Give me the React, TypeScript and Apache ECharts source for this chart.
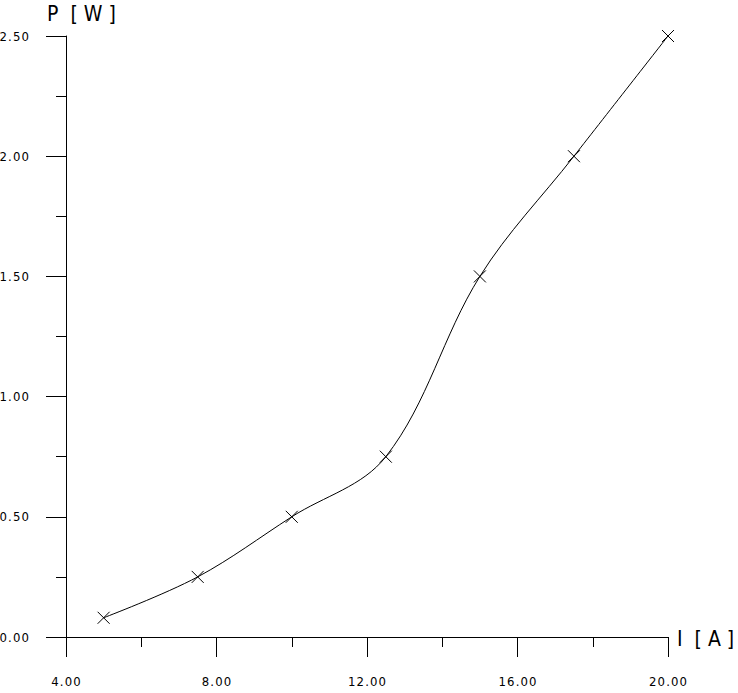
import React, { useEffect, useRef } from "react";
import * as echarts from "echarts";

const currentA = [5, 7.5, 10, 12.5, 15, 17.5, 20];
const powerW = [0.08, 0.25, 0.5, 0.75, 1.5, 2.0, 2.5];
const xLabelTicks = [4, 8, 12, 16, 20];
const yAxisTitle = "P  [ W ]";
const xAxisTitle = "I  [ A ]";

const FONT = "'DejaVu Sans Condensed', 'Liberation Sans Narrow', sans-serif";
const spaced = (s: string) => s.split("").join("\u200A");

export default function App() {
  const ref = useRef<HTMLDivElement>(null);
  useEffect(() => {
    if (!ref.current) return;
    const chart = echarts.init(ref.current, null, { renderer: "svg" });
    chart.setOption({
      animation: false,
      backgroundColor: "#ffffff",
      grid: { left: 66, top: 36, right: 70, bottom: 56, containLabel: false, outerBoundsMode: "none" },
      xAxis: {
        type: "value",
        min: 4,
        max: 20,
        interval: 4,
        axisLine: { show: true, onZero: false, lineStyle: { color: "#000", width: 1 } },
        axisTick: { show: true, length: 20, lineStyle: { color: "#000", width: 1 } },
        minorTick: { show: true, splitNumber: 2, length: 10, lineStyle: { color: "#000", width: 1 } },
        splitLine: { show: false },
        axisLabel: {
          margin: 38,
          color: "#000",
          fontFamily: FONT,
          fontSize: 13,
          formatter: (v: number) => (xLabelTicks.includes(v) ? spaced(v.toFixed(2)) : ""),
        },
      },
      yAxis: {
        type: "value",
        min: 0,
        max: 2.5,
        interval: 0.5,
        axisLine: { show: true, onZero: false, lineStyle: { color: "#000", width: 1 } },
        axisTick: { show: true, length: 20, lineStyle: { color: "#000", width: 1 } },
        minorTick: { show: true, splitNumber: 2, length: 10, lineStyle: { color: "#000", width: 1 } },
        splitLine: { show: false },
        axisLabel: {
          margin: 37,
          color: "#000",
          fontFamily: FONT,
          fontSize: 13,
          formatter: (v: number) => spaced(v.toFixed(2)),
        },
      },
      graphic: [
        {
          type: "text",
          left: 47,
          top: 3,
          style: { text: yAxisTitle, fill: "#000", font: `21px ${FONT}` },
        },
        {
          type: "text",
          left: 677,
          top: 628,
          style: { text: xAxisTitle, fill: "#000", font: `21px ${FONT}` },
        },
      ],
      series: [
        {
          type: "line",
          data: currentA.map((x, i) => [x, powerW[i]]),
          smooth: 0.35,
          lineStyle: { color: "#000", width: 1 },
          symbol: "path://M0,0L10,10M10,0L0,10",
          symbolSize: 12,
          showSymbol: true,
          itemStyle: { color: "none", borderColor: "#000", borderWidth: 1 },
        },
      ],
    });
    return () => chart.dispose();
  }, []);
  return <div ref={ref} style={{ width: 738, height: 693, position: "absolute", left: 0, top: 0 }} />;
}
